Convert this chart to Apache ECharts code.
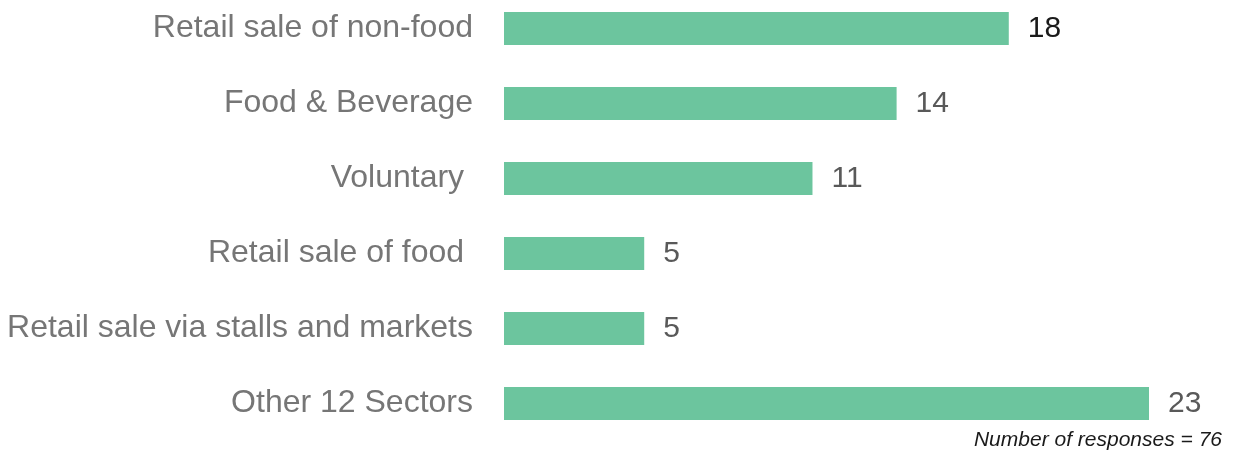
<!DOCTYPE html>
<html>
<head>
<meta charset="utf-8">
<script src="https://cdn.jsdelivr.net/npm/echarts@6/dist/echarts.min.js"></script>
<style>
  html, body { margin: 0; padding: 0; background: #fff; }
  #chart { width: 1236px; height: 455px; }
</style>
</head>
<body>
<div id="chart"></div>
<script>
// categories top to bottom
var sectors = [
  'Retail sale of non-food',
  'Food & Beverage',
  'Voluntary ',
  'Retail sale of food ',
  'Retail sale via stalls and markets',
  'Other 12 Sectors'
];
var responses = [18, 14, 11, 5, 5, 23];
var footnote = 'Number of responses = 76';

var chart = echarts.init(document.getElementById('chart'));

// first bar's label is darker in the original
var barData = responses.map(function (v, i) {
  return {
    value: v,
    label: { color: i === 0 ? '#1a1a1a' : '#595959' }
  };
});

var option = {
  animation: false,
  grid: {
    left: 504, width: 645, top: -9, height: 450,
    containLabel: false,
    outerBoundsMode: 'none'
  },
  xAxis: {
    type: 'value',
    min: 0,
    max: 23,
    show: false
  },
  yAxis: {
    type: 'category',
    inverse: true,
    data: sectors,
    axisLine: { show: false },
    axisTick: { show: false },
    splitLine: { show: false },
    axisLabel: {
      margin: 31,
      color: '#767676',
      fontSize: 32,
      fontFamily: 'Liberation Sans'
    }
  },
  series: [{
    type: 'bar',
    data: barData,
    barWidth: 33,
    itemStyle: { color: '#6cc59e' },
    label: {
      show: true,
      position: 'right',
      distance: 19,
      fontSize: 30,
      fontFamily: 'Liberation Sans'
    }
  }],
  graphic: [{
    type: 'text',
    right: 14,
    top: 430,
    style: {
      text: footnote,
      fontSize: 21,
      fontStyle: 'italic',
      fontFamily: 'Liberation Sans',
      fill: '#1a1a1a'
    }
  }]
};

chart.setOption(option);
</script>
</body>
</html>
